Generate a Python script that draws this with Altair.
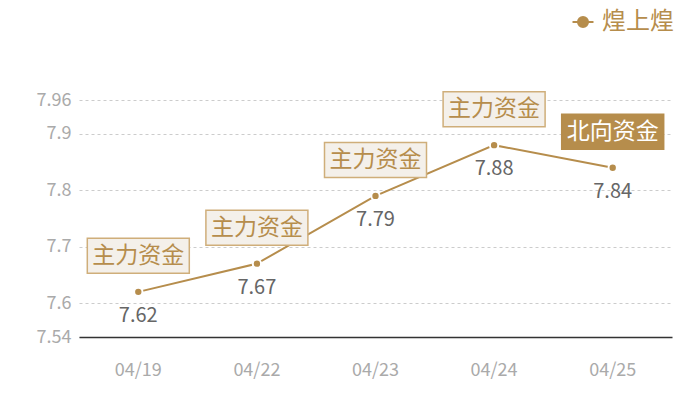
import altair as alt
import pandas as pd

dates = ["04/19", "04/22", "04/23", "04/24", "04/25"]
values = [7.62, 7.67, 7.79, 7.88, 7.84]
tags = ["主力资金", "主力资金", "主力资金", "主力资金", "北向资金"]
highlight = [False, False, False, False, True]
series = ["煌上煌"] * 5
y_ticks = [7.54, 7.6, 7.7, 7.8, 7.9, 7.96]

df = pd.DataFrame({"date": dates, "value": values, "tag": tags,
                   "hl": highlight, "series": series})

TAN = "#b68d4c"
FONT = "Noto Sans CJK SC"

x = alt.X("date:N", sort=dates, title=None,
          scale=alt.Scale(type="band", paddingInner=0, paddingOuter=0),
          axis=alt.Axis(labelAngle=0, labelColor="#aaaaaa", labelFontSize=18,
                        labelFont=FONT, ticks=False, domainColor="#333333",
                        domainWidth=1.5, labelPadding=24, grid=False))
y = alt.Y("value:Q", title=None,
          scale=alt.Scale(domain=[7.54, 7.96], nice=False, zero=False),
          axis=alt.Axis(values=y_ticks, format=".2~f", labelColor="#aaaaaa", labelFontSize=18,
                        labelFont=FONT, ticks=False, domain=False, labelPadding=8,
                        grid=True, gridDash=[3, 3], gridColor="#cccccc"))

base = alt.Chart(df).encode(x=x, y=y)

line = base.mark_line(strokeWidth=2).encode(
    color=alt.Color("series:N", scale=alt.Scale(range=[TAN]),
                    legend=alt.Legend(title=None, orient="none", legendX=492, legendY=-90,
                                      symbolType="M-1,0H1M-0.48,0A0.48,0.48,0,1,1,0.48,0A0.48,0.48,0,1,1,-0.48,0Z",
                                      symbolSize=440, symbolStrokeWidth=2,
                                      symbolFillColor=TAN, symbolStrokeColor="#d6bc92",
                                      labelFontSize=24, labelColor=TAN, labelFont=FONT,
                                      labelOffset=7, padding=0))
)

points = base.mark_point(filled=True, size=70, color=TAN, stroke="white",
                         strokeWidth=2, opacity=1, strokeOpacity=1)

vlabels = base.mark_text(dy=24, fontSize=20, color="#666666", font=FONT).encode(
    text=alt.Text("value:Q", format=".2f"))

boxes = base.mark_rect(width=102, height=35, yOffset=-36, strokeWidth=1.5).encode(
    fill=alt.condition("datum.hl", alt.value(TAN), alt.value("#f4f0ea")),
    stroke=alt.condition("datum.hl", alt.value(TAN), alt.value("#cfae7a")),
)

btext = base.mark_text(dy=-36, fontSize=23, font=FONT).encode(
    text="tag:N",
    color=alt.condition("datum.hl", alt.value("white"), alt.value(TAN)),
)

chart = alt.layer(line, points, vlabels, boxes, btext).properties(
    width=593, height=237,
    autosize=alt.AutoSizeParams(type="none"),
    padding={"left": 71, "top": 92, "right": 20, "bottom": 55},
).configure_view(stroke=None)

chart.save("out.html", embed_options={"renderer": "svg", "actions": False})
